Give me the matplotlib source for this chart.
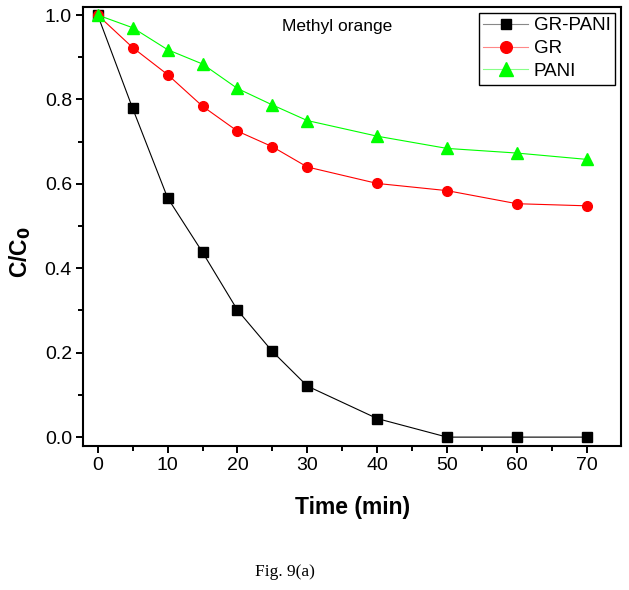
import numpy as np
import matplotlib
matplotlib.use('Agg')
import matplotlib.pyplot as plt
from matplotlib.ticker import MultipleLocator

plt.rcParams['font.family'] = ['Liberation Sans', 'DejaVu Sans']

# data
time = [0, 5, 10, 15, 20, 25, 30, 40, 50, 60, 70]
gr_pani = [1.0, 0.779, 0.567, 0.438, 0.301, 0.203, 0.121, 0.044, 0.0, 0.0, 0.0]
gr = [1.0, 0.923, 0.859, 0.784, 0.725, 0.688, 0.640, 0.601, 0.584, 0.553, 0.548]
pani = [1.0, 0.970, 0.918, 0.884, 0.826, 0.787, 0.750, 0.713, 0.684, 0.673, 0.658]

fig = plt.figure(figsize=(6.29, 5.90), dpi=100)
ax = fig.add_axes([0.132, 0.2441, 0.8553, 0.744])

ax.plot(time, gr_pani, color='black', lw=0.8, marker='s', ms=6.5,
        mfc='black', mec='black', label='GR-PANI')
ax.plot(time, gr, color='red', lw=0.8, marker='o', ms=7,
        mfc='red', mec='red', label='GR')
ax.plot(time, pani, color='#00ff00', lw=0.8, marker='^', ms=8.5,
        mfc='#00ff00', mec='#00ff00', label='PANI')

ax.set_xlim(-2.1, 74.9)
ax.set_ylim(-0.021, 1.019)
ax.xaxis.set_major_locator(MultipleLocator(10))
ax.xaxis.set_minor_locator(MultipleLocator(5))
ax.yaxis.set_major_locator(MultipleLocator(0.2))
ax.yaxis.set_minor_locator(MultipleLocator(0.1))
ax.yaxis.set_major_formatter(plt.FormatStrFormatter('%.1f'))
ax.tick_params(which='both', direction='out', top=False, right=False, width=1.4)
ax.tick_params(which='major', length=5, labelsize=14, pad=3)
ax.tick_params(which='minor', length=3.5)
for s in ax.spines.values():
    s.set_linewidth(1.5)

ax.set_xlabel('Time (min)', fontsize=16.5, fontweight='bold')
ax.xaxis.set_label_coords(0.501, -0.114)
fig.text(20 / 629, 1 - 252 / 590, 'C/C$_\\mathbf{0}$', rotation=90, ha='center', va='center',
         fontsize=16.5, fontweight='bold')

fig.text(337 / 629, 1 - 27 / 590, 'Methyl orange', ha='center', va='center', fontsize=12.5)

leg = ax.legend(loc='upper right', fontsize=13.5, fancybox=False, edgecolor='black',
                framealpha=1, handlelength=2.4, handletextpad=0.3, borderpad=0.25,
                labelspacing=0.3, borderaxespad=0.3, markerscale=1.2)
leg.get_frame().set_linewidth(1.0)
for line, c in zip(leg.get_lines(), ['#888888', '#ff8888', '#88ff88']):
    line.set_color(c)

fig.text(285 / 629, 1 - 572 / 590, 'Fig. 9(a)', family=['Liberation Serif', 'DejaVu Serif'],
         fontsize=12.5, ha='center', va='center')

fig.savefig('out.png', dpi=100)
